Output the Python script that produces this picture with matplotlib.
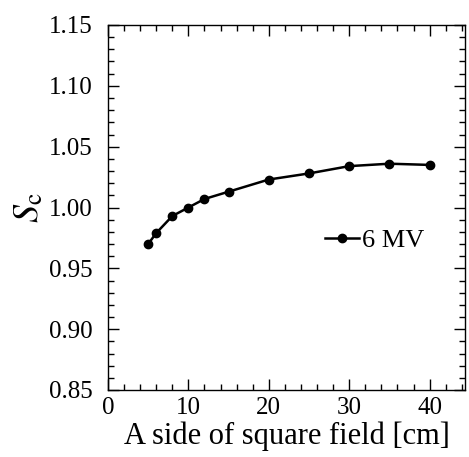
import matplotlib
matplotlib.use("Agg")
import matplotlib.pyplot as plt
from matplotlib.ticker import MultipleLocator

plt.rcParams['font.family'] = ['Liberation Serif', 'DejaVu Serif']
plt.rcParams['mathtext.fontset'] = 'stix'

field = [5, 6, 8, 10, 12, 15, 20, 25, 30, 35, 40]
sc_6mv = [0.970, 0.979, 0.993, 1.000, 1.007, 1.013, 1.023, 1.028, 1.034, 1.036, 1.035]

fig = plt.figure(figsize=(4.69, 4.57), dpi=100)
ax = fig.add_axes([108/469, 1-390/457, 357/469, 365/457])
ax.plot(field, sc_6mv, '-o', color='black', lw=1.8, ms=6, label='6 MV')
ax.set_xlim(0, 44.4)
ax.set_ylim(0.85, 1.15)
ax.xaxis.set_major_locator(MultipleLocator(10))
ax.xaxis.set_minor_locator(MultipleLocator(2))
ax.yaxis.set_major_locator(MultipleLocator(0.05))
ax.yaxis.set_minor_locator(MultipleLocator(0.01))
ax.yaxis.set_major_formatter(matplotlib.ticker.FormatStrFormatter('%.2f'))
ax.tick_params(which='both', direction='in', top=True, right=True, labelsize=18, width=1)
ax.tick_params(which='major', length=8)
ax.tick_params(which='minor', length=4)
ax.tick_params(axis='y', which='major', pad=11)
ax.tick_params(axis='x', which='major', pad=5)
for s in ax.spines.values():
    s.set_linewidth(1)
ax.set_xlabel('A side of square field [cm]', fontsize=22, labelpad=2)
ax.set_ylabel(r'$\mathit{S}_{\mathrm{c}}$', fontsize=26, labelpad=2)
ax.legend(loc='center left', bbox_to_anchor=(0.607, 0.41), frameon=False, fontsize=19,
          handlelength=1.3, handletextpad=0.1, borderaxespad=0, borderpad=0)
fig.savefig('out.png', dpi=100)
